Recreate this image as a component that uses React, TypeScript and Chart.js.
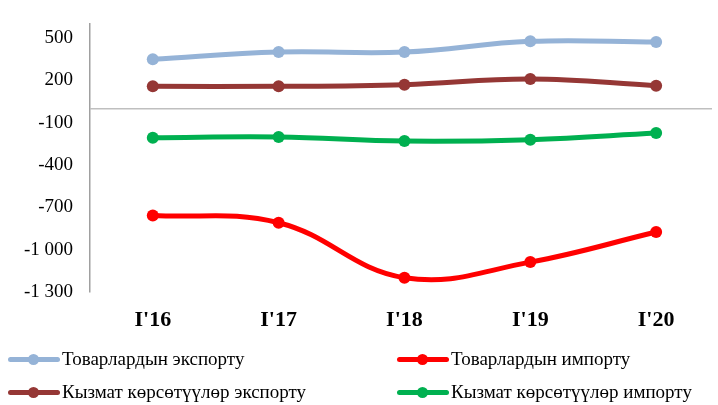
import React, { useEffect, useRef } from "react";
import { Chart, registerables } from "chart.js";

Chart.register(...registerables);

const categories = ["I'16", "I'17", "I'18", "I'19", "I'20"];
const goodsExport = [350, 401, 401, 477, 472];
const goodsImport = [-757, -809, -1199, -1088, -875];
const servicesExport = [158, 158, 170, 210, 163];
const servicesImport = [-206, -201, -230, -220, -173];
const yTicks = [-1300, -1000, -700, -400, -100, 0, 200, 500];

const seriesNames = [
  "Товарлардын экспорту",
  "Товарлардын импорту",
  "Кызмат көрсөтүүлөр экспорту",
  "Кызмат көрсөтүүлөр импорту",
];
const seriesColors = ["#95B3D7", "#FF0000", "#953735", "#00B050"];
const seriesValues = [goodsExport, goodsImport, servicesExport, servicesImport];

const FONT = "'Liberation Serif', 'Times New Roman', serif";

function fmt(v: number): string {
  const s = Math.abs(v).toString();
  const withSep = s.replace(/\B(?=(\d{3})+(?!\d))/g, " ");
  return (v < 0 ? "-" : "") + withSep;
}

function LegendItem({ color, label, left, top }: { color: string; label: string; left: number; top: number }) {
  return (
    <div style={{ position: "absolute", left, top, height: 24, display: "flex", alignItems: "center" }}>
      <div style={{ position: "relative", width: 52, height: 24 }}>
        <div style={{ position: "absolute", left: 0, right: 0, top: 10, height: 5, background: color, borderRadius: 3 }} />
        <div style={{ position: "absolute", left: 20, top: 7, width: 11, height: 11, background: color, borderRadius: "50%" }} />
      </div>
      <span style={{ marginLeft: 2, fontFamily: FONT, fontSize: 19, color: "#000", whiteSpace: "nowrap" }}>{label}</span>
    </div>
  );
}

export default function App() {
  const ref = useRef<HTMLCanvasElement | null>(null);

  useEffect(() => {
    if (!ref.current) return;
    const chart = new Chart(ref.current, {
      type: "line",
      data: {
        datasets: seriesValues.map((vals, i) => ({
          label: seriesNames[i],
          data: vals.map((y, x) => ({ x, y })),
          borderColor: seriesColors[i],
          backgroundColor: seriesColors[i],
          borderWidth: 5,
          pointRadius: 6,
          pointBorderWidth: 0,
          tension: 0.4,
          fill: false,
        })),
      },
      options: {
        animation: false,
        responsive: false,
        maintainAspectRatio: false,
        layout: { padding: { top: 24, right: 4, bottom: 0, left: 0 } },
        plugins: { legend: { display: false }, tooltip: { enabled: false } },
        scales: {
          x: {
            type: "linear",
            min: -0.499,
            max: 4.444,
            afterBuildTicks: (s: any) => {
              s.ticks = categories.map((_, i) => ({ value: i }));
            },
            afterFit: (s: any) => {
              s.height = 113;
              s.paddingLeft = 0;
              s.paddingRight = 0;
            },
            grid: { display: false, drawTicks: false },
            border: { display: false },
            ticks: {
              padding: 15,
              maxRotation: 0,
              autoSkip: false,
              color: "#000",
              font: { family: FONT, size: 22, weight: "bold" },
              callback: (v: any) => categories[v] ?? "",
            },
          },
          y: {
            min: -1300,
            max: 600,
            afterBuildTicks: (s: any) => {
              s.ticks = yTicks.map((v) => ({ value: v }));
            },
            afterFit: (s: any) => {
              s.width = 90;
              s.paddingTop = 0;
              s.paddingBottom = 0;
            },
            grid: {
              drawTicks: false,
              color: (ctx: any) => (ctx.tick && ctx.tick.value === 0 ? "#BFBFBF" : "rgba(0,0,0,0)"),
              lineWidth: 1.5,
            },
            border: { display: true, color: "#A0A0A0", width: 1.5 },
            ticks: {
              padding: 17,
              color: "#000",
              font: { family: FONT, size: 19 },
              callback: (v: any) => (v === 0 ? "" : fmt(v)),
            },
          },
        },
      },
    });
    return () => chart.destroy();
  }, []);

  return (
    <div style={{ position: "absolute", left: 0, top: 0, width: 718, height: 405, background: "#fff" }}>
      <canvas ref={ref} width={718} height={405} style={{ position: "absolute", left: 0, top: 0, width: 718, height: 405 }} />
      <LegendItem color={seriesColors[0]} label={seriesNames[0]} left={8} top={347} />
      <LegendItem color={seriesColors[1]} label={seriesNames[1]} left={397} top={347} />
      <LegendItem color={seriesColors[2]} label={seriesNames[2]} left={8} top={380} />
      <LegendItem color={seriesColors[3]} label={seriesNames[3]} left={397} top={380} />
    </div>
  );
}
